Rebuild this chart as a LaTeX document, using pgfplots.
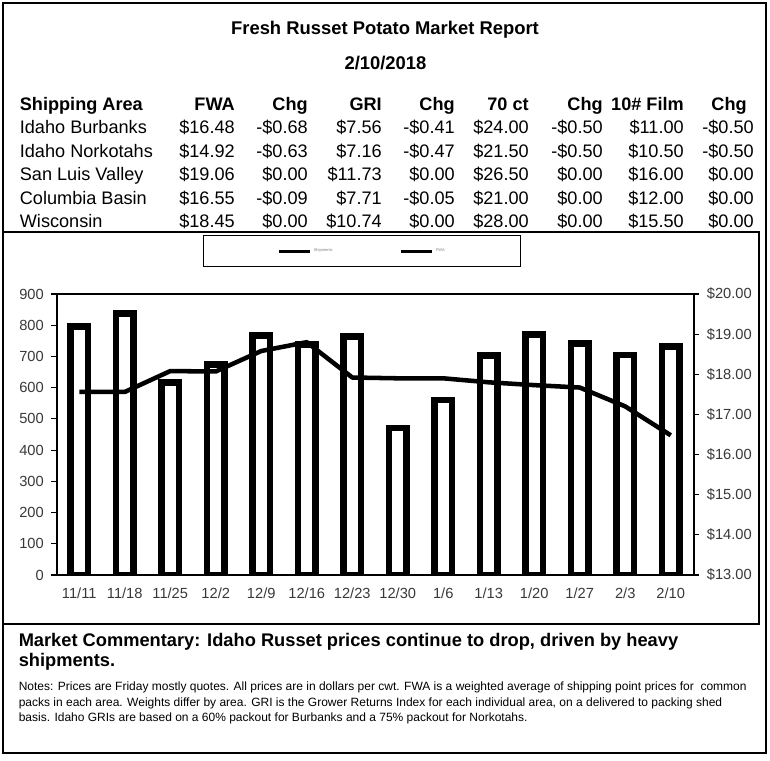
\documentclass[border=0pt]{standalone}
\usepackage{pgfplots}
\pgfplotsset{compat=1.18}
\usepackage{fontspec}
\setmainfont{Liberation Sans}
\newcommand\fs[1]{\fontsize{#1}{#1}\selectfont}
\begin{document}
\begin{tikzpicture}
\begin{scope}[x=0.75pt,y=-0.75pt]
\path[use as bounding box] (0,0) rectangle (770,760);
\draw[line width=1.5pt] (3,3) rectangle (766,753);
\draw[line width=0.9pt] (3,232) -- (759,232) -- (759,624) -- (3,624);
% title
\node[anchor=base,inner sep=0] at (385,34) {\fs{13.8}\bfseries Fresh Russet Potato Market Report};
\node[anchor=base,inner sep=0] at (385.5,69) {\fs{13.8}\bfseries 2/10/2018};
% header
\begin{scope}[every node/.style={inner sep=0,font=\fs{13.6}\bfseries}]
\node[anchor=base west] at (19.6,110) {Shipping Area};
\node[anchor=base east] at (235,110) {FWA};
\node[anchor=base east] at (308,110) {Chg};
\node[anchor=base east] at (382,110) {GRI};
\node[anchor=base east] at (455,110) {Chg};
\node[anchor=base east] at (529,110) {70 ct};
\node[anchor=base east] at (603,110) {Chg};
\node[anchor=base east] at (684,110) {10\# Film};
\node[anchor=base east] at (747,110) {Chg};
\end{scope}
\begin{scope}[every node/.style={inner sep=0,font=\fs{13.6}}]
\foreach \y/\a/\b/\c/\d/\e/\f/\g/\h/\i in {
 133/Idaho Burbanks/\$16.48/-\$0.68/\$7.56/-\$0.41/\$24.00/-\$0.50/\$11.00/-\$0.50,
 157/Idaho Norkotahs/\$14.92/-\$0.63/\$7.16/-\$0.47/\$21.50/-\$0.50/\$10.50/-\$0.50,
 180/San Luis Valley/\$19.06/\$0.00/\$11.73/\$0.00/\$26.50/\$0.00/\$16.00/\$0.00,
 204/Columbia Basin/\$16.55/-\$0.09/\$7.71/-\$0.05/\$21.00/\$0.00/\$12.00/\$0.00,
 227/Wisconsin/\$18.45/\$0.00/\$10.74/\$0.00/\$28.00/\$0.00/\$15.50/\$0.00}{
 \node[anchor=base west] at (19.6,\y) {\a};
 \node[anchor=base east] at (235,\y) {\b};
 \node[anchor=base east] at (308,\y) {\c};
 \node[anchor=base east] at (382,\y) {\d};
 \node[anchor=base east] at (455,\y) {\e};
 \node[anchor=base east] at (529,\y) {\f};
 \node[anchor=base east] at (603,\y) {\g};
 \node[anchor=base east] at (684,\y) {\h};
 \node[anchor=base east] at (754,\y) {\i};
}
\end{scope}
% commentary
\node[anchor=base west,inner sep=0] at (18.5,646) {\fs{13.7}\bfseries Market Commentary: Idaho Russet prices continue to drop, driven by heavy};
\node[anchor=base west,inner sep=0] at (18.5,666) {\fs{13.7}\bfseries shipments.};
\begin{scope}[every node/.style={inner sep=0,font=\fs{9},anchor=base west}]
\node at (18.5,690) {Notes: Prices are Friday mostly quotes. All prices are in dollars per cwt. FWA is a weighted average of shipping point prices for\ \ common};
\node at (18.5,706) {packs in each area. Weights differ by area. GRI is the Grower Returns Index for each individual area, on a delivered to packing shed};
\node at (18.5,721.5) {basis. Idaho GRIs are based on a 60\% packout for Burbanks and a 75\% packout for Norkotahs.};
\end{scope}
\end{scope}

\pgfplotsset{
  common/.style={
    at={(42.375pt,-431.25pt)}, anchor=south west,
    scale only axis, width=477.75pt, height=210.75pt,
    xmin=-0.5, xmax=13.5,
    /pgf/number format/assume math mode=true,
    tick align=outside,
    axis line style={line width=1.5pt},
    every tick/.style={black, line width=0.9pt},
    major tick length=4pt,
    minor tick length=4pt,
    ticklabel style={font=\fs{11}, text=black!78},
  }
}
\begin{axis}[common,
  ymin=0, ymax=900, ytick={0,100,...,900}, ytick pos=left,
  yticklabel style={xshift=-2pt},
  xtick={0,...,13},
  xticklabels={11/11,11/18,11/25,12/2,12/9,12/16,12/23,12/30,1/6,1/13,1/20,1/27,2/3,2/10},
  xtick pos=bottom,
  xtick style={draw=none},
  minor xtick={-0.5,0.5,...,13.5},
  xticklabel style={yshift=-2pt},
  ybar, bar width=13pt,
]
\addplot[draw=black, fill=white, line width=5pt] coordinates {
(0,797) (1,838) (2,616) (3,674) (4,767) (5,738) (6,763) (7,471) (8,560) (9,703) (10,770) (11,742) (12,705) (13,731)};
\end{axis}
\begin{axis}[common,
  ymin=13, ymax=20, ytick={13,...,20},
  axis y line*=right, axis x line=none,
  yticklabel style={xshift=2.5pt},
  yticklabel={\$\pgfmathprintnumber[fixed,fixed zerofill,precision=2]{\tick}},
  legend columns=2,
  legend cell align=left,
  legend image code/.code={\draw[black,line width=2.25pt] (0pt,0pt) -- (23.25pt,0pt);},
  legend style={at={(axis description cs:0.48,1.153)}, anchor=center,
    draw=black, line width=0.9pt, font=\fs{3}, text=gray,
    inner xsep=55pt, inner ysep=7.8pt,
    /tikz/every even column/.append style={column sep=48pt}},
]
\addlegendimage{black}
\addlegendentry{Shipments}
\addplot[black, line width=3.4pt, line join=round] coordinates {
(0,17.56) (1,17.56) (2,18.08) (3,18.07) (4,18.58) (5,18.80) (6,17.92) (7,17.90) (8,17.90) (9,17.80) (10,17.73) (11,17.67) (12,17.20) (13,16.48)};
\addlegendentry{FWA}
\end{axis}
\end{tikzpicture}
\end{document}
